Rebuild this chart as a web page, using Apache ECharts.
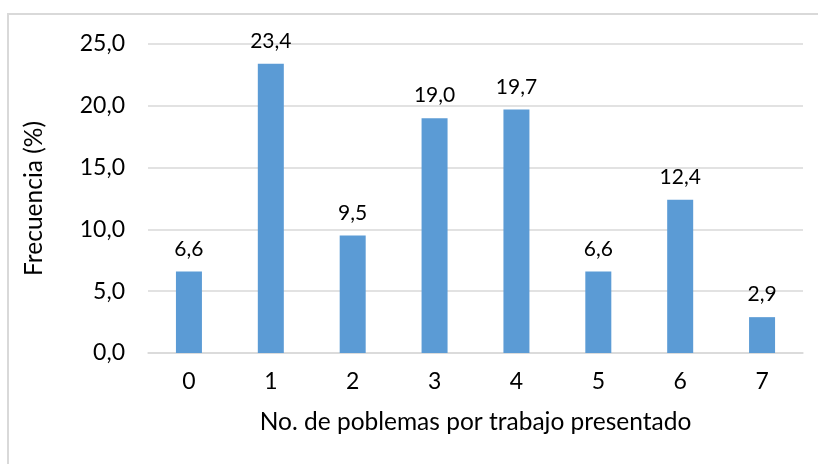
<!DOCTYPE html>
<html>
<head>
<meta charset="utf-8">
<script src="https://cdn.jsdelivr.net/npm/echarts@6/dist/echarts.min.js"></script>
<style>
  html, body { margin: 0; padding: 0; background: #fff; }
  #chart { width: 818px; height: 464px; }
</style>
</head>
<body>
<div id="chart"></div>
<script>
// Number of problems per submitted work, and their relative frequency (%)
const categories = ['0', '1', '2', '3', '4', '5', '6', '7'];
const frequency = [6.6, 23.4, 9.5, 19.0, 19.7, 6.6, 12.4, 2.9];
const yTicks = [0, 5, 10, 15, 20, 25];

const FONT = 'Lato, "Open Sans", sans-serif';
const comma = v => v.toFixed(1).replace('.', ',');

const chart = echarts.init(document.getElementById('chart'), null, { renderer: 'canvas' });
chart.setOption({
  animation: false,
  backgroundColor: '#ffffff',
  graphic: [{
    type: 'rect',
    shape: { x: 8, y: 14, width: 830, height: 470 },
    style: { fill: 'none', stroke: '#d9d9d9', lineWidth: 2 },
    silent: true
  }],
  grid: { left: 148, right: 15, top: 44, bottom: 111 },
  xAxis: {
    type: 'category',
    data: categories,
    name: 'No. de poblemas por trabajo presentado',
    nameLocation: 'middle',
    nameGap: 57,
    nameTextStyle: { fontFamily: FONT, fontSize: 24.5, color: '#000' },
    axisLine: { show: true, lineStyle: { color: '#d9d9d9', width: 1.5 } },
    axisTick: { show: false },
    axisLabel: { fontFamily: FONT, fontSize: 23, color: '#000', margin: 17 }
  },
  yAxis: {
    type: 'value',
    min: yTicks[0],
    max: yTicks[yTicks.length - 1],
    interval: yTicks[1] - yTicks[0],
    name: 'Frecuencia (%)',
    nameLocation: 'middle',
    nameGap: 101,
    nameRotate: 90,
    nameTextStyle: { fontFamily: FONT, fontSize: 24.5, color: '#000' },
    axisLine: { show: false },
    axisTick: { show: false },
    splitLine: { lineStyle: { color: '#d9d9d9', width: 1.5 } },
    axisLabel: { fontFamily: FONT, fontSize: 23, color: '#000', margin: 23, formatter: v => comma(v) }
  },
  series: [{
    type: 'bar',
    data: frequency,
    barWidth: 26,
    itemStyle: { color: '#5b9bd5' },
    label: {
      show: true,
      position: 'top',
      distance: 12,
      fontFamily: FONT,
      fontSize: 21,
      color: '#000',
      formatter: p => comma(p.value)
    }
  }]
});
</script>
</body>
</html>
